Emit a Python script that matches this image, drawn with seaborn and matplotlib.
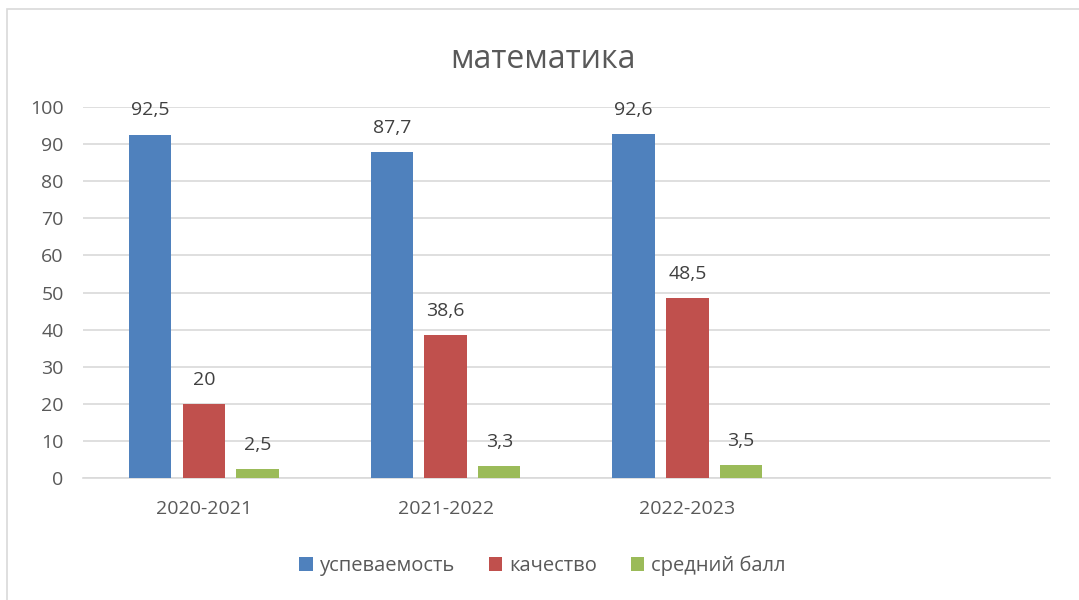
import matplotlib
matplotlib.use("Agg")
import matplotlib.pyplot as plt
import matplotlib.patches as mpatches
import seaborn as sns
import pandas as pd

years = ["2020-2021", "2021-2022", "2022-2023"]
series = ["успеваемость", "качество", "средний балл"]
uspevaemost = [92.5, 87.7, 92.6]
kachestvo = [20, 38.6, 48.5]
sredniy_ball = [2.5, 3.3, 3.5]
y_ticks = [0, 10, 20, 30, 40, 50, 60, 70, 80, 90, 100]

colors = ["#4F81BD", "#C0504D", "#9BBB59"]
text_color = "#595959"

sns.set_theme(style="white")
plt.rcParams["font.family"] = ["Open Sans", "DejaVu Sans"]

rows = []
for name, vals in zip(series, [uspevaemost, kachestvo, sredniy_ball]):
    for yr, v in zip(years, vals):
        rows.append({"год": yr, "показатель": name, "значение": v})
df = pd.DataFrame(rows)

fig = plt.figure(figsize=(10.79, 6.0), dpi=100)
ax_left, ax_width = 0.077, 0.896
ax = fig.add_axes([ax_left, 0.203, ax_width, 0.619])

sns.barplot(data=df, x="год", y="значение", hue="показатель",
            order=years, hue_order=series, palette=colors,
            width=0.666, gap=0.21, errorbar=None, saturation=1,
            linewidth=0, ax=ax, legend=True, zorder=3)

ax.set_xlim(-0.5, 3.5)
ax.set_ylim(0, 100)
ax.set_yticks(y_ticks)
ax.yaxis.grid(True, color="#D9D9D9", linewidth=1.2, zorder=0)
ax.xaxis.grid(False)
for s in ["top", "right", "left"]:
    ax.spines[s].set_visible(False)
ax.spines["bottom"].set_color("#D9D9D9")
ax.spines["bottom"].set_linewidth(1.2)
ax.set_xlabel("")
ax.set_ylabel("")
ax.tick_params(axis="both", length=0, labelsize=14, labelcolor=text_color)
ax.tick_params(axis="y", pad=14)
ax.tick_params(axis="x", pad=16)

def fmt(v):
    s = f"{v:g}"
    return s.replace(".", ",")

for cont in ax.containers:
    ax.bar_label(cont, labels=[fmt(v) for v in cont.datavalues],
                 padding=11, fontsize=14, color="#404040")

# title and legend are centred on the whole chart area, not the plot area
cx = (0.503 - ax_left) / ax_width
ax.set_title("математика", fontsize=23, color=text_color, pad=28, x=cx)

leg = ax.legend(loc="upper center", bbox_to_anchor=(cx, -0.16), ncol=3,
                frameon=False, fontsize=14.5, handlelength=0.65, handleheight=0.65,
                columnspacing=1.7, handletextpad=0.35)
for t in leg.get_texts():
    t.set_color(text_color)

fig.patches.append(mpatches.Rectangle((7 / 1079, -0.1), 1.2, 1 - 9 / 600 + 0.1,
                                      transform=fig.transFigure, fill=False,
                                      edgecolor="#D9D9D9", linewidth=1.2))

fig.savefig("out.png", dpi=100, facecolor="white")
